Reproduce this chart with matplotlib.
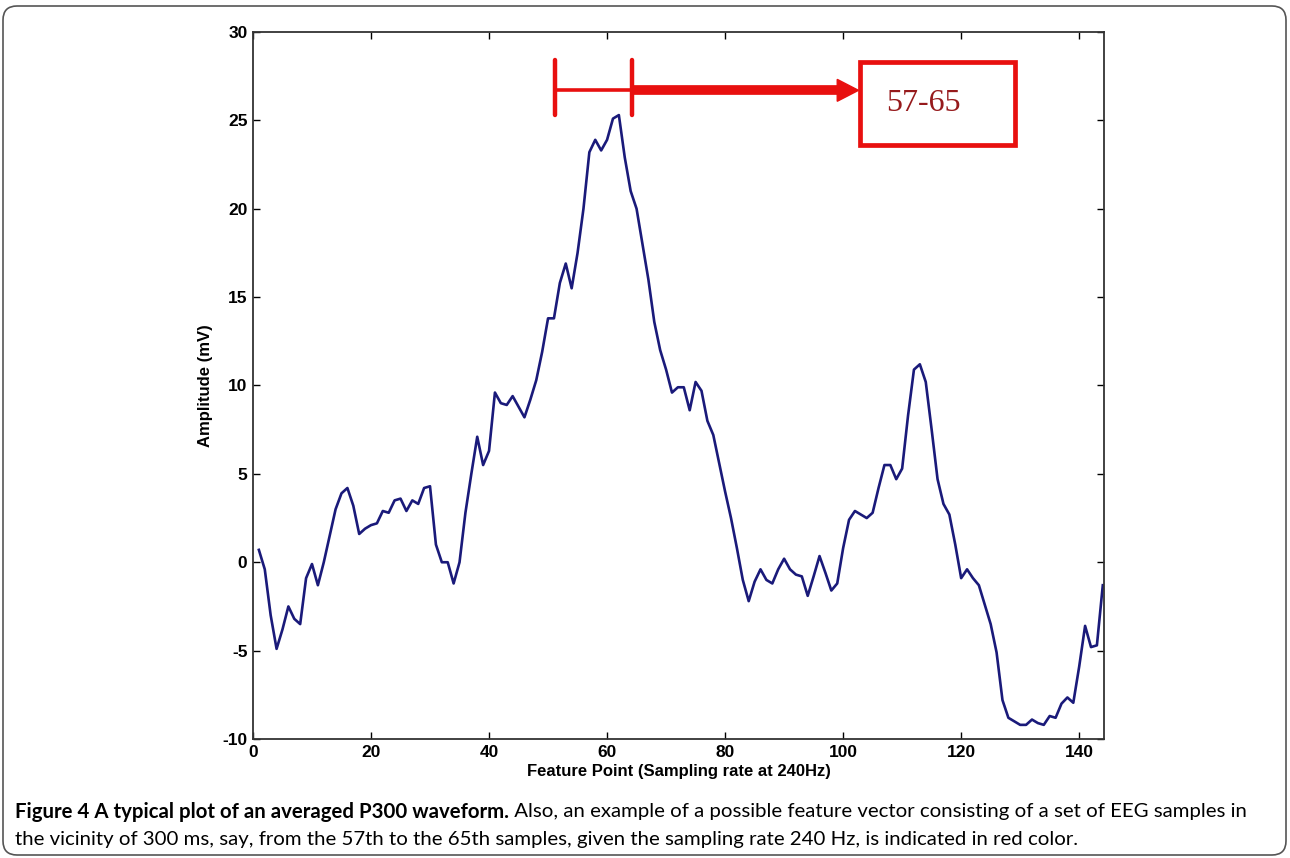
import matplotlib.pyplot as plt
import numpy as np
from matplotlib.patches import FancyBboxPatch, Polygon, Rectangle

plt.rcParams["axes.unicode_minus"] = False

# averaged P300 waveform, one value per feature point (1..144)
feature_point = np.arange(1, 145)
amplitude = [
    0.7, -0.4, -3.0, -4.9, -3.8, -2.5, -3.2, -3.5, -0.9, -0.1,
    -1.3, 0.0, 1.5, 3.0, 3.9, 4.2, 3.2, 1.6, 1.9, 2.1,
    2.2, 2.9, 2.8, 3.5, 3.6, 2.9, 3.5, 3.3, 4.2, 4.3,
    1.0, 0.0, 0.0, -1.2, 0.0, 2.8, 5.0, 7.1, 5.5, 6.3,
    9.6, 9.0, 8.9, 9.4, 8.8, 8.2, 9.2, 10.3, 11.9, 13.8,
    13.8, 15.8, 16.9, 15.5, 17.5, 20.0, 23.2, 23.9, 23.3, 23.9,
    25.1, 25.3, 22.9, 21.0, 20.0, 18.0, 16.0, 13.6, 12.0, 10.9,
    9.6, 9.9, 9.9, 8.6, 10.2, 9.7, 8.0, 7.2, 5.6, 4.0,
    2.5, 0.8, -1.0, -2.2, -1.1, -0.4, -1.0, -1.2, -0.4, 0.2,
    -0.4, -0.7, -0.8, -1.9, -0.8, 0.35, -0.6, -1.6, -1.2, 0.8,
    2.4, 2.9, 2.7, 2.5, 2.8, 4.2, 5.5, 5.5, 4.7, 5.3,
    8.3, 10.9, 11.2, 10.2, 7.5, 4.7, 3.3, 2.7, 1.0, -0.9,
    -0.4, -0.9, -1.3, -2.4, -3.5, -5.1, -7.8, -8.8, -9.0, -9.2,
    -9.2, -8.9, -9.1, -9.2, -8.7, -8.8, -8.0, -7.65, -7.95, -5.9,
    -3.6, -4.8, -4.7, -1.3,
]
x_ticks = [0, 20, 40, 60, 80, 100, 120, 140]
y_ticks = [-10, -5, 0, 5, 10, 15, 20, 25, 30]
feature_label = "57-65"

caption_title = "Figure 4 A typical plot of an averaged P300 waveform."
caption_line1 = " Also, an example of a possible feature vector consisting of a set of EEG samples in"
caption_line2 = ("the vicinity of 300 ms, say, from the 57th to the 65th samples, "
                 "given the sampling rate 240 Hz, is indicated in red color.")

RED = "#e8100f"
sans = ["Liberation Sans", "DejaVu Sans"]
cap_font = ["Lato", "DejaVu Sans"]

fig = plt.figure(figsize=(12.9, 8.58), dpi=100)
ax = fig.add_axes([0.1961, 0.1387, 0.6597, 0.824])

ax.plot(feature_point, amplitude, color="#1a1a7a", lw=1.9)

ax.set_xlim(0, 144.2)
ax.set_ylim(-10, 30)
ax.set_xticks(x_ticks)
ax.set_yticks(y_ticks)
ax.tick_params(direction="in", top=True, right=True, length=5, width=1,
               labelsize=12.5, pad=4)
for lab in ax.get_xticklabels() + ax.get_yticklabels():
    lab.set_family(sans)
    lab.set_fontweight("bold")
for s in ax.spines.values():
    s.set_linewidth(1.3)
    s.set_color("#333333")

ax.set_xlabel("Feature Point (Sampling rate at 240Hz)", family=sans,
              fontweight="bold", fontsize=12, labelpad=3)
ax.set_ylabel("Amplitude (mV)", family=sans, fontweight="bold",
              fontsize=12, labelpad=7)

# red bracket over the feature window with an arrow to the label box
left, right, mid = 51.2, 64.2, 26.7
for xb in (left, right):
    ax.plot([xb, xb], [25.3, 28.4], color=RED, lw=3.2, solid_capstyle="round")
ax.plot([left, right], [mid, mid], color=RED, lw=2.6)
ax.plot([right, 99.6], [mid, mid], color=RED, lw=7, solid_capstyle="butt")
ax.add_patch(Polygon([[99.0, mid + 0.62], [102.6, mid], [99.0, mid - 0.62]],
                     closed=True, color=RED))
ax.add_patch(Rectangle((102.9, 23.6), 26.3, 4.7, fill=False,
                       edgecolor=RED, lw=3.4))
ax.text(113.6, 25.95, feature_label, ha="center", va="center",
        family=["Liberation Serif", "DejaVu Serif"], fontsize=23,
        color="#961a1c")

# caption underneath, sized so the lines span the same width
y1, y2 = 1 - 812 / 858, 1 - 839 / 858
t_title = fig.text(15 / 1290, y1, caption_title, family=cap_font,
                   fontweight="bold", fontsize=14, va="center")
t_line1 = fig.text(0, y1, caption_line1, family=cap_font, fontsize=14, va="center")
t_line2 = fig.text(15 / 1290, y2, caption_line2, family=cap_font, fontsize=14,
                   va="center")
renderer = fig.canvas.get_renderer()
w = (t_title.get_window_extent(renderer).width
     + t_line1.get_window_extent(renderer).width)
size = 14 * (1248 - 15) / w
for t in (t_title, t_line1, t_line2):
    t.set_fontsize(size)
t_line1.set_x((15 + t_title.get_window_extent(renderer).width) / 1290)

# rounded frame around the figure
fig.patches.append(FancyBboxPatch((3, 3), 1283, 849,
                                  boxstyle="round,pad=0,rounding_size=14",
                                  fill=False, edgecolor="#555555", lw=1.2,
                                  transform=None))

fig.savefig("out.png", dpi=100)
